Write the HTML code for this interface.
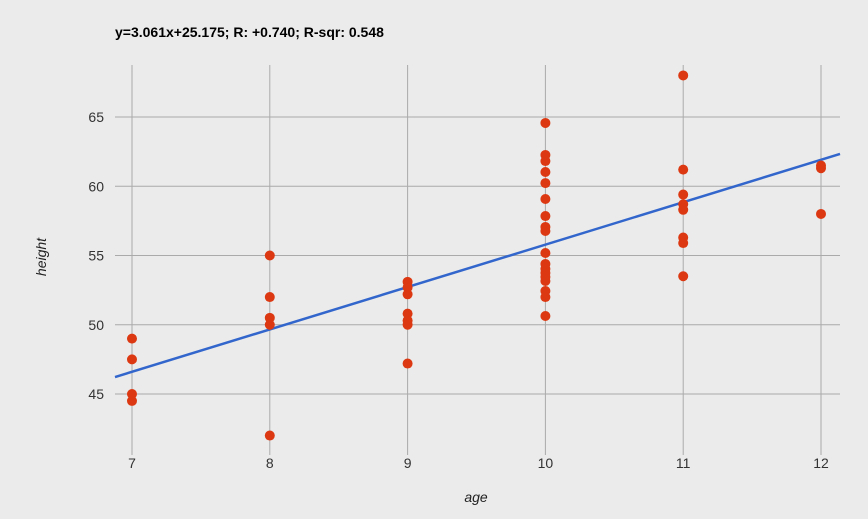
<!DOCTYPE html>
<html><head><meta charset="utf-8"><style>
body{margin:0;background:#ebebeb;font-family:"Liberation Sans",Arial,sans-serif}
svg{display:block}
</style></head><body>
<svg id="chart" width="868" height="519" viewBox="0 0 868 519">
<rect width="868" height="519" fill="#ebebeb"/>
<text x="115" y="37" font-size="14" font-weight="bold" fill="#000">y=3.061x+25.175; R: +0.740; R-sqr: 0.548</text>
<g id="grid"></g><g id="line"></g><g id="pts"></g><g id="labels"></g>
<text x="476" y="502" font-size="14" font-style="italic" text-anchor="middle" fill="#222">age</text>
<text transform="translate(46,257) rotate(-90)" font-size="14" font-style="italic" text-anchor="middle" fill="#222">height</text>
</svg>
<script>
const xTicks=[7,8,9,10,11,12];
const yTicks=[45,50,55,60,65];
const ages=[7,7,7,7, 8,8,8,8,8, 9,9,9,9,9,9,9,
10,10,10,10,10,10,10,10,10,10,10,10,10,10,10,10,10,10,
11,11,11,11,11,11,11,11, 12,12,12];
const heights=[49,47.5,45,44.5, 55,52,50.5,50,42, 53.1,52.7,52.2,50.8,50.3,50,47.2,
64.57,62.26,61.82,61.03,60.23,59.08,57.85,57.06,56.77,55.18,54.39,54.03,53.74,53.45,53.16,52.44,52,50.63,
68,61.2,59.4,58.7,58.3,56.3,55.9,53.5, 61.5,61.3,58];
const slope=3.061, intercept=25.175;
const ns="http://www.w3.org/2000/svg";
const X=a=>132+(a-7)*137.8;
const Y=v=>394-(v-45)*13.85;
const pTop=65,pBottom=455,pLeft=115,pRight=840;
function mk(t,at,parent){const e=document.createElementNS(ns,t);for(const k in at)e.setAttribute(k,at[k]);document.getElementById(parent).appendChild(e);return e;}
yTicks.forEach(v=>{
 const l=mk('line',{x1:pLeft,x2:pRight,y1:Y(v),y2:Y(v),stroke:'#aaa','stroke-width':1},'grid');
 
 
 const t=mk('text',{x:104,y:Y(v)+5,'font-size':14,'text-anchor':'end',fill:'#333'},'labels');
 t.textContent=v;
 
 
});
xTicks.forEach(a=>{
 const l=mk('line',{x1:X(a),x2:X(a),y1:pTop,y2:pBottom,stroke:'#aaa','stroke-width':1},'grid');
 
 
 const t=mk('text',{x:X(a),y:468,'font-size':14,'text-anchor':'middle',fill:'#333'},'labels');
 t.textContent=a;
 
 
});
const a0=(pLeft-132)/137.8+7, a1=(pRight-132)/137.8+7;
const tl=mk('line',{x1:X(a0),y1:Y(slope*a0+intercept),x2:X(a1),y2:Y(slope*a1+intercept),stroke:'#3366cc','stroke-width':2.5},'line');


ages.forEach((a,i)=>{
 const c=mk('circle',{cx:X(a),cy:Y(heights[i]),r:5,fill:'#dc3912'},'pts');
 
 
});
</script>
</body></html>
